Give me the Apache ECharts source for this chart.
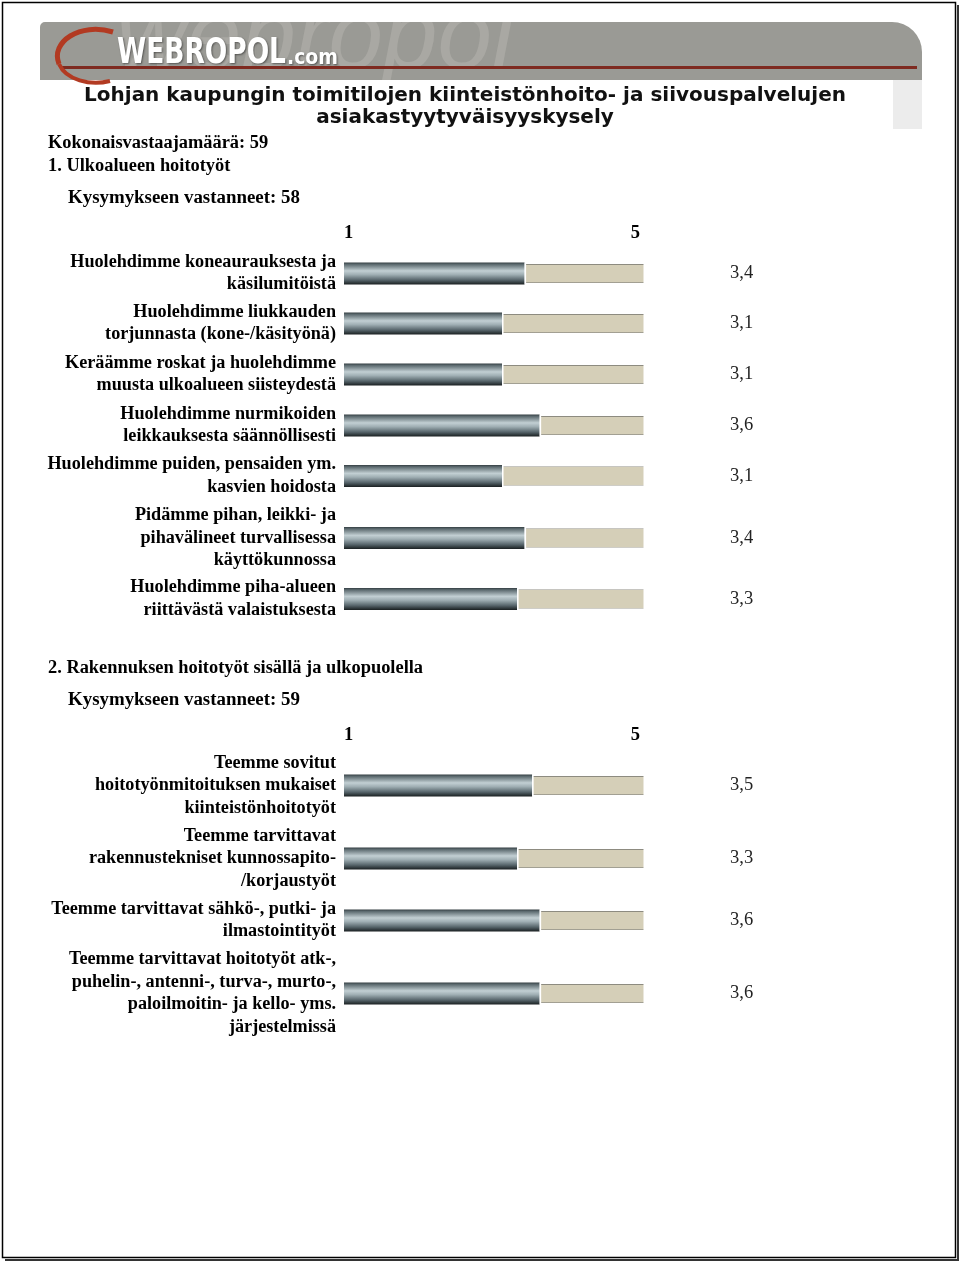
<!DOCTYPE html>
<html>
<head>
<meta charset="utf-8">
<script src="https://cdn.jsdelivr.net/npm/echarts@6/dist/echarts.min.js"></script>
<style>
html,body{margin:0;padding:0;background:#fff;}
#chart{width:960px;height:1261px;}
</style>
</head>
<body>
<div id="chart"></div>
<script>
// ---------- data ----------
const titleText = 'Lohjan kaupungin toimitilojen kiinteistönhoito- ja siivouspalvelujen\nasiakastyytyväisyyskysely';
const totalText = 'Kokonaisvastaajamäärä: 59';
const section1Title = '1. Ulkoalueen hoitotyöt';
const section1Answered = 'Kysymykseen vastanneet: 58';
const section1Labels = [
  'Huolehdimme koneaurauksesta ja\nkäsilumitöistä',
  'Huolehdimme liukkauden\ntorjunnasta (kone-/käsityönä)',
  'Keräämme roskat ja huolehdimme\nmuusta ulkoalueen siisteydestä',
  'Huolehdimme nurmikoiden\nleikkauksesta säännöllisesti',
  'Huolehdimme puiden, pensaiden ym.\nkasvien hoidosta',
  'Pidämme pihan, leikki- ja\npihavälineet turvallisessa\nkäyttökunnossa',
  'Huolehdimme piha-alueen\nriittävästä valaistuksesta'
];
const section1Values = [3.4, 3.1, 3.1, 3.6, 3.1, 3.4, 3.3];
const section2Title = '2. Rakennuksen hoitotyöt sisällä ja ulkopuolella';
const section2Answered = 'Kysymykseen vastanneet: 59';
const section2Labels = [
  'Teemme sovitut\nhoitotyönmitoituksen mukaiset\nkiinteistönhoitotyöt',
  'Teemme tarvittavat\nrakennustekniset kunnossapito-\n/korjaustyöt',
  'Teemme tarvittavat sähkö-, putki- ja\nilmastointityöt',
  'Teemme tarvittavat hoitotyöt atk-,\npuhelin-, antenni-, turva-, murto-,\npaloilmoitin- ja kello- yms.\njärjestelmissä'
];
const section2Values = [3.5, 3.3, 3.6, 3.6];
const scaleMin = 1;
const scaleMax = 5;
const tickValues = [1, 5];
const logoMain = 'WEBROPOL';
const logoSuffix = '.com';
const watermarkText = 'webropol';

// ---------- layout ----------
const rowCenters1 = [273.5, 323.5, 374.5, 425.5, 476, 538, 599];
const rowCenters2 = [785.5, 858.5, 920.5, 993.5];
const tickLabelY = [233, 735];
const barLeft = 344, barWidthPx = 301, barH = 22;

const serif = "'Liberation Serif','Times New Roman',serif";
const sans = "'Liberation Sans',Arial,sans-serif";
const narrow = "'DejaVu Sans Condensed','Liberation Sans Narrow',sans-serif";

const rows = [];
section1Labels.forEach((l, i) => rows.push({label: l, value: section1Values[i], center: rowCenters1[i], first: i === 0, sec: 0}));
section2Labels.forEach((l, i) => rows.push({label: l, value: section2Values[i], center: rowCenters2[i], first: i === 0, sec: 1}));

function vgrad(stops) {
  return {type: 'linear', x: 0, y: 0, x2: 0, y2: 1, colorStops: stops};
}
const darkGrad = vgrad([
  {offset: 0, color: '#343e42'},
  {offset: 0.08, color: '#5a686d'},
  {offset: 0.38, color: '#c2cfd3'},
  {offset: 0.55, color: '#a0afb4'},
  {offset: 0.8, color: '#56646a'},
  {offset: 0.93, color: '#2e373a'},
  {offset: 1, color: '#1a1f21'}
]);
const beigeGrad = vgrad([
  {offset: 0, color: '#8d8b80'},
  {offset: 0.1, color: '#8d8b80'},
  {offset: 0.11, color: '#d5cfb8'},
  {offset: 0.9, color: '#d5cfb8'},
  {offset: 0.91, color: '#9d9b8f'},
  {offset: 1, color: '#9d9b8f'}
]);

const grids = [], xAxes = [], yAxes = [], series = [];
rows.forEach((r, i) => {
  const top = r.center - barH / 2;
  grids.push({left: barLeft, width: barWidthPx, top: top, height: barH});
  xAxes.push({
    gridIndex: i, type: 'value', min: scaleMin, max: scaleMax, position: 'top',
    show: r.first,
    axisLine: {show: false}, axisTick: {show: false}, splitLine: {show: false},
    axisLabel: {
      show: r.first, customValues: tickValues,
      margin: top - tickLabelY[r.sec] - 10,
      fontFamily: serif, fontWeight: 'bold', fontSize: 18.5, color: '#000',
      alignMinLabel: 'left', alignMaxLabel: 'right',
      formatter: v => (v === scaleMax ? '{r|' + v + '}' : '{l|' + v + '}'),
      rich: {
        l: {fontFamily: serif, fontWeight: 'bold', fontSize: 18.5, color: '#000', padding: [0, 0, 0, 0]},
        r: {fontFamily: serif, fontWeight: 'bold', fontSize: 18.5, color: '#000', padding: [0, 5, 0, 0]}
      }
    }
  });
  yAxes.push({
    gridIndex: i, type: 'category', data: [r.label],
    axisLine: {show: false}, axisTick: {show: false}, splitLine: {show: false},
    axisLabel: {margin: 8, fontFamily: serif, fontWeight: 'bold', fontSize: 18.2, lineHeight: 22.5, color: '#000', align: 'right'}
  });
  series.push({
    type: 'bar', xAxisIndex: i, yAxisIndex: i, stack: 's' + i, data: [r.value],
    barWidth: barH, clip: true, silent: true,
    itemStyle: {color: darkGrad}
  });
  series.push({
    type: 'bar', xAxisIndex: i, yAxisIndex: i, stack: 's' + i, data: [scaleMax - r.value],
    barWidth: barH, clip: true, silent: true,
    itemStyle: {color: beigeGrad, borderColor: '#ffffff', borderWidth: 1.5},
    label: {
      show: true, position: 'right', distance: 85,
      formatter: () => r.value.toFixed(1).replace('.', ','),
      fontFamily: serif, fontSize: 18.5, color: '#222'
    }
  });
});

// measure logo text to place the suffix
const mctx = document.createElement('canvas').getContext('2d');
const logoFontSize = 35, logoScale = 0.84, logoX = 117;
mctx.font = 'bold ' + logoFontSize + 'px ' + narrow;
const logoW = mctx.measureText(logoMain).width * logoScale;

const headStyle = {fontSize: 18.4, fontWeight: 'bold', fontFamily: serif, fill: '#000', textVerticalAlign: 'middle'};
const logoShadow = {textShadowColor: 'rgba(0,0,0,0.45)', textShadowBlur: 2, textShadowOffsetX: 1, textShadowOffsetY: 1};

const graphic = [
  // page background
  {type: 'rect', shape: {x: 2.5, y: 2.5, width: 953, height: 1255}, style: {fill: '#fff'}},
  // banner
  {type: 'rect', shape: {x: 40, y: 22, width: 882, height: 58, r: [5, 30, 0, 0]}, style: {fill: '#9a9a95'}},
  {type: 'text', x: 116, y: 90, style: {text: watermarkText, fontSize: 98, fontStyle: 'italic', fontFamily: sans, fill: '#a9a8a3', textVerticalAlign: 'bottom'}},
  {type: 'rect', shape: {x: 60, y: 0, width: 600, height: 22}, style: {fill: '#fff'}},
  {type: 'rect', shape: {x: 60, y: 80, width: 600, height: 10}, style: {fill: '#fff'}},
  {type: 'rect', shape: {x: 893, y: 80, width: 29, height: 49}, style: {fill: '#ececec'}},
  {type: 'line', shape: {x1: 60, y1: 67.5, x2: 917, y2: 67.5}, style: {stroke: '#7e2a20', lineWidth: 3}},
  {type: 'bezierCurve', shape: {x1: 113, y1: 32, cpx1: 80, cpy1: 22, cpx2: 50, cpy2: 42, x2: 59, y2: 64}, style: {fill: 'none', stroke: '#b23a22', lineWidth: 5}},
  {type: 'bezierCurve', shape: {x1: 59, y1: 64, cpx1: 66, cpy1: 80, cpx2: 90, cpy2: 86, x2: 110, y2: 81}, style: {fill: 'none', stroke: '#b23a22', lineWidth: 4}},
  {type: 'text', x: logoX, y: 71, scaleX: logoScale, originX: 0, originY: 0,
    style: Object.assign({text: logoMain, fontSize: logoFontSize, fontWeight: 'bold', fontFamily: narrow, fill: '#fff', textVerticalAlign: 'bottom'}, logoShadow)},
  {type: 'text', x: logoX + logoW + 1, y: 69,
    style: Object.assign({text: logoSuffix, fontSize: 21, fontWeight: 'bold', fontFamily: narrow, fill: '#fff', textVerticalAlign: 'bottom'}, logoShadow)},
  // page frame with shadow
  {type: 'polyline', shape: {points: [[958, 5], [958, 1260], [5, 1260]]}, style: {fill: 'none', stroke: '#333', lineWidth: 2}},
  {type: 'rect', shape: {x: 2.5, y: 2.5, width: 953, height: 1255}, style: {fill: 'none', stroke: '#000', lineWidth: 1.5}},
  // title
  {type: 'text', x: 465, y: 107, style: {text: titleText, fontSize: 20, fontWeight: 'bold', fontFamily: "'DejaVu Sans',sans-serif", fill: '#111', textAlign: 'center', textVerticalAlign: 'middle', lineHeight: 22}},
  // headers
  {type: 'text', x: 48, y: 143, style: Object.assign({text: totalText}, headStyle)},
  {type: 'text', x: 48, y: 166, style: Object.assign({text: section1Title}, headStyle)},
  {type: 'text', x: 68, y: 198, style: Object.assign({text: section1Answered}, headStyle, {fontSize: 18.9})},
  {type: 'text', x: 48, y: 668, style: Object.assign({text: section2Title}, headStyle)},
  {type: 'text', x: 68, y: 700, style: Object.assign({text: section2Answered}, headStyle, {fontSize: 18.9})}
];

const chart = echarts.init(document.getElementById('chart'), null, {renderer: 'canvas'});
chart.setOption({
  backgroundColor: '#ffffff',
  animation: false,
  graphic: {elements: graphic.map(g => Object.assign({z: -10, silent: true}, g))},
  grid: grids,
  xAxis: xAxes,
  yAxis: yAxes,
  series: series
});
</script>
</body>
</html>
